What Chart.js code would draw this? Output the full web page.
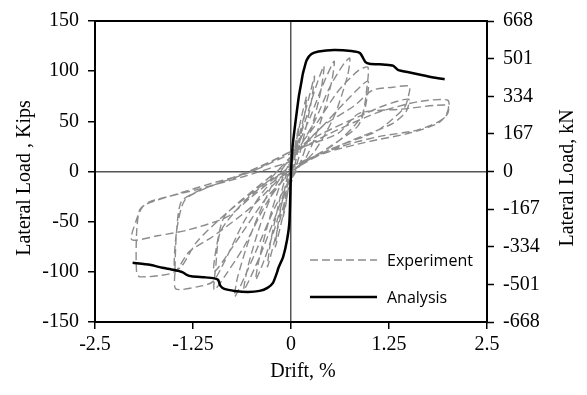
<!DOCTYPE html>
<html>
<head>
<meta charset="utf-8">
<script src="https://cdn.jsdelivr.net/npm/chart.js@4.4.1/dist/chart.umd.min.js"></script>
<style>
html,body{margin:0;padding:0;background:#fff;}
#wrap{width:587px;height:395px;position:relative;}
</style>
</head>
<body>
<div id="wrap"><canvas id="c" width="587" height="395"></canvas></div>
<script>
// ---- Tick values ----
const driftTicks = [-2.5, -1.25, 0, 1.25, 2.5];
const driftTickLabels = ["-2.5", "-1.25", "0", "1.25", "2.5"];
const kipsTicks = [-150, -100, -50, 0, 50, 100, 150];
const kNTicks = [-668, -501, -334, -167, 0, 167, 334, 501, 668];

// ---- Experiment (cyclic test), drift % ----
const expDrift = [
  0, 0.05, 0.1, 0.08, 0.03, -0.03, -0.07, -0.1, -0.08, -0.03, 0.02,
  0.08, 0.15, 0.2, 0.17, 0.1, 0.03, -0.05, -0.12, -0.2, -0.17, -0.1, -0.03, 0.04,
  0.15, 0.25, 0.3, 0.26, 0.15, 0.05, -0.08, -0.18, -0.3, -0.26, -0.15, -0.05, 0.05,
  0.2, 0.32, 0.42, 0.38, 0.25, 0.1, -0.05, -0.2, -0.35, -0.45, -0.4, -0.25, -0.1, 0.05,
  0.25, 0.4, 0.55, 0.52, 0.38, 0.2, 0, -0.2, -0.4, -0.6, -0.55, -0.4, -0.2, 0,
  0.3, 0.5, 0.68, 0.75, 0.72, 0.55, 0.3, 0.05, -0.2, -0.45, -0.65, -0.72, -0.68, -0.5, -0.25, 0,
  0.3, 0.6, 0.85, 0.98, 0.97, 0.9, 0.6, 0.3, 0, -0.3, -0.6, -0.85, -0.98, -0.96, -0.9, -0.6, -0.3, 0,
  0.4, 0.7, 0.98, 0.95, 0.85, 0.5, 0.1, -0.3, -0.7, -0.98, -0.95, -0.85, -0.5, 0,
  0.4, 0.8, 1.04, 1.3, 1.51, 1.5, 1.45, 1.2, 1.04, 0.87, 0.5, 0.1, -0.3, -0.6, -0.85, -1.0, -1.2, -1.47, -1.48, -1.46, -1.4, -1.2, -0.8, -0.4, 0,
  0.4, 0.87, 1.2, 1.5, 1.47, 1.3, 0.9, 0.5, 0, -0.5, -1.0, -1.3, -1.48, -1.46, -1.35, -1.0, -0.5, 0,
  0.5, 0.98, 1.19, 1.62, 2.0, 2.0, 1.89, 1.6, 1.13, 0.77, 0.4, 0.13, -0.3, -0.8, -1.2, -1.4, -1.55, -1.93, -1.97, -1.97, -1.93, -1.83, -1.44, -1.02, -0.5, 0,
  0.6, 0.87, 1.4, 2.0, 1.97, 1.85, 1.5, 1.0, 0.5, 0, -0.5, -0.81, -1.3, -1.7, -2.03, -1.98, -1.9, -1.8, -1.2, -0.6, 0
];
// ---- Experiment lateral load, kips ----
const expLoad = [
  0, 25, 45, 30, 5, -15, -35, -45, -30, -5, 10,
  35, 60, 75, 55, 25, 0, -25, -50, -75, -55, -25, 0, 15,
  50, 80, 95, 70, 30, 0, -30, -60, -95, -70, -30, 0, 20,
  55, 85, 105, 80, 40, 5, -15, -55, -90, -108, -85, -40, -5, 20,
  55, 85, 110, 90, 50, 15, -5, -45, -85, -118, -95, -55, -15, 10,
  50, 85, 108, 113, 95, 55, 20, 0, -35, -80, -115, -125, -105, -60, -15, 15,
  45, 80, 100, 104, 85, 55, 30, 15, 0, -30, -75, -105, -118, -95, -60, -30, -10, 15,
  45, 70, 90, 65, 45, 25, 5, -25, -70, -100, -75, -45, -20, 12,
  45, 65, 81, 84, 85, 76, 64, 46, 38, 33, 22, 5, -15, -50, -90, -110, -115, -117, -100, -60, -30, -20, -8, 5, 20,
  38, 55, 66, 72, 60, 48, 35, 22, 3, -35, -65, -80, -100, -60, -28, -14, 0, 18,
  38, 55, 61, 69.6, 71, 58, 50, 41, 35, 28, 18, 8, -10, -40, -70, -95, -102, -105, -100, -62, -38, -32, -22, -12, 0, 20,
  38, 58, 62, 66, 55, 47, 38, 30, 20, 5, -25, -45, -58, -64, -68, -50, -36, -30, -18, -5, 10
];

// ---- Analysis (backbone), drift % and kips ----
const anaDrift = [
  -2.02, -1.8, -1.64, -1.5, -1.38, -1.33, -1.27, -1.1, -0.98, -0.93, -0.9, -0.85, -0.72, -0.55, -0.4, -0.3, -0.23, -0.18, -0.16, -0.1, -0.05, -0.02, 0,
  0.02, 0.05, 0.1, 0.13, 0.15, 0.17, 0.2, 0.26, 0.35, 0.55, 0.77, 0.88, 0.92, 0.95, 1.0, 1.2, 1.3, 1.37, 1.5, 1.62, 1.8, 1.96
];
const anaLoad = [
  -91, -93, -96, -98, -100.5, -103, -104.5, -105.5, -106.5, -108, -114, -117, -119, -120, -119, -116, -111, -101, -96, -85, -68, -50, 0,
  25, 45, 75, 88, 97, 103, 111, 117, 119.5, 121, 120, 118, 113, 109, 107.5, 106.5, 105.5, 101, 99, 97, 94, 92
];

const expPts = expDrift.map((x, i) => ({x: x, y: expLoad[i]}));
const anaPts = anaDrift.map((x, i) => ({x: x, y: anaLoad[i]}));

const serif = '"Liberation Serif", "Times New Roman", serif';

const extras = {
  id: 'extras',
  afterDatasetsDraw(chart) {
    const {ctx, chartArea: a} = chart;
    ctx.save();
    ctx.strokeStyle = '#000';
    ctx.lineWidth = 2;
    ctx.strokeRect(a.left, a.top, a.right - a.left, a.bottom - a.top);
    // legend
    const ds = chart.data.datasets;
    const rows = [{ds: ds[1], y: 260}, {ds: ds[0], y: 297}];
    ctx.font = '16px "Open Sans", sans-serif';
    ctx.textBaseline = 'middle';
    ctx.textAlign = 'left';
    rows.forEach(r => {
      ctx.beginPath();
      ctx.strokeStyle = r.ds.borderColor;
      ctx.lineWidth = r.ds.borderWidth;
      ctx.setLineDash(r.ds.borderDash || []);
      ctx.moveTo(310, r.y);
      ctx.lineTo(377, r.y);
      ctx.stroke();
      ctx.setLineDash([]);
      ctx.fillStyle = '#000';
      ctx.fillText(r.ds.label, 387, r.y + 1);
    });
    // axis titles
    ctx.fillStyle = '#000';
    ctx.font = '20px ' + serif;
    ctx.textAlign = 'center';
    ctx.textBaseline = 'middle';
    ctx.save();
    ctx.translate(25, 178);
    ctx.rotate(-Math.PI / 2);
    ctx.fillText('Lateral Load , Kips', 0, 0);
    ctx.restore();
    ctx.save();
    ctx.translate(568, 178);
    ctx.rotate(-Math.PI / 2);
    ctx.fillText('Lateral Load, kN', 0, 0);
    ctx.restore();
    ctx.fillText('Drift, %', 303, 372);
    ctx.restore();
  }
};

const zeroGrid = (c) => (c.tick && c.tick.value === 0) ? '#555555' : 'rgba(0,0,0,0)';

new Chart(document.getElementById('c'), {
  type: 'scatter',
  data: {
    datasets: [
      {label: 'Analysis', data: anaPts, showLine: true, borderColor: '#000000', borderWidth: 2.5, pointRadius: 0, tension: 0.2, order: 0},
      {label: 'Experiment', data: expPts, showLine: true, borderColor: '#8c8c8c', borderWidth: 1.4, borderDash: [8, 4], pointRadius: 0, tension: 0.25, order: 1}
    ]
  },
  options: {
    responsive: false,
    animation: false,
    devicePixelRatio: 1,
    layout: {padding: {top: 21, left: 0, right: 0, bottom: 0}},
    plugins: {legend: {display: false}, tooltip: {enabled: false}},
    scales: {
      x: {
        type: 'linear', position: 'bottom', min: -2.5, max: 2.5,
        afterBuildTicks: s => { s.ticks = driftTicks.map(v => ({value: v})); },
        afterFit: s => { s.height = 73; },
        grid: {drawOnChartArea: true, color: zeroGrid, lineWidth: 1.5, tickColor: '#000', tickLength: 7, tickWidth: 1.5},
        border: {display: false},
        ticks: {color: '#000', font: {family: serif, size: 20}, padding: 4, maxRotation: 0, autoSkip: false,
          callback: (v) => { const i = driftTicks.indexOf(v); return i >= 0 ? driftTickLabels[i] : ''; }}
      },
      y: {
        type: 'linear', position: 'left', min: -150, max: 150,
        afterBuildTicks: s => { s.ticks = kipsTicks.map(v => ({value: v})); },
        afterFit: s => { s.width = 95; },
        grid: {drawOnChartArea: true, color: zeroGrid, lineWidth: 1.5, tickColor: '#000', tickLength: 7, tickWidth: 1.5},
        border: {display: false},
        ticks: {color: '#000', font: {family: serif, size: 20}, padding: 9, autoSkip: false, callback: v => String(v)}
      },
      y2: {
        type: 'linear', position: 'right', min: -668, max: 668,
        afterBuildTicks: s => { s.ticks = kNTicks.map(v => ({value: v})); },
        afterFit: s => { s.width = 100; },
        grid: {drawOnChartArea: false, tickColor: '#000', tickLength: 7, tickWidth: 1.5},
        border: {display: false},
        ticks: {color: '#000', font: {family: serif, size: 20}, padding: 9, autoSkip: false, callback: v => String(v)}
      }
    }
  },
  plugins: [extras]
});
</script>
</body>
</html>
